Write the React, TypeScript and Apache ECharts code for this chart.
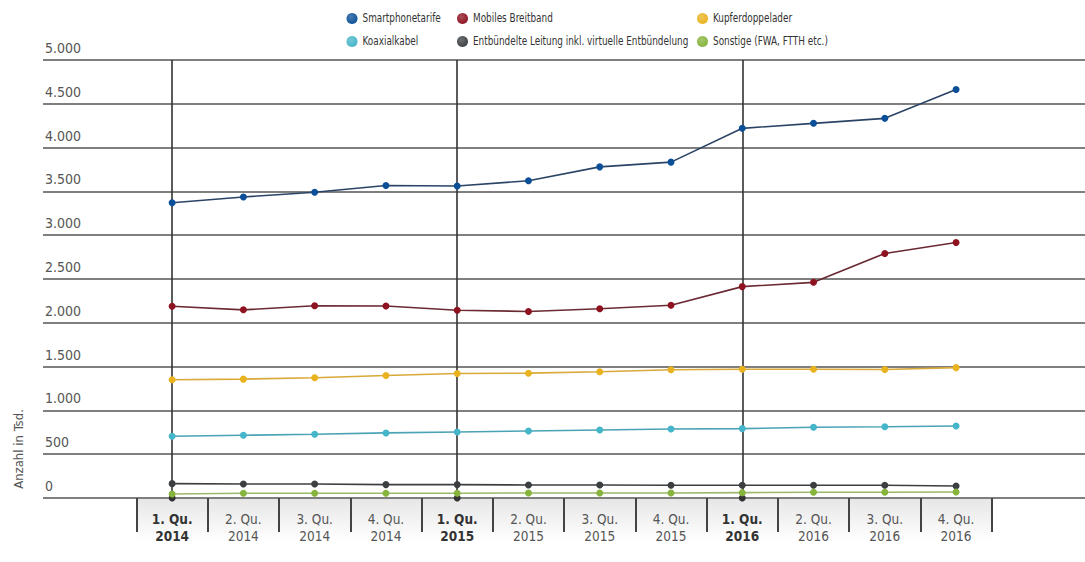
import React, { useEffect, useRef } from "react";
import * as echarts from "echarts";

const quarters = ["1. Qu.", "2. Qu.", "3. Qu.", "4. Qu.", "1. Qu.", "2. Qu.", "3. Qu.", "4. Qu.", "1. Qu.", "2. Qu.", "3. Qu.", "4. Qu."];
const years = ["2014", "2014", "2014", "2014", "2015", "2015", "2015", "2015", "2016", "2016", "2016", "2016"];
const categories = quarters.map((q, i) => `${q}\n${years[i]}`);

const seriesNames = [
  "Smartphonetarife",
  "Mobiles Breitband",
  "Kupferdoppelader",
  "Koaxialkabel",
  "Entbündelte Leitung inkl. virtuelle Entbündelung",
  "Sonstige (FWA, FTTH etc.)",
];
const smartphonetarife = [3370, 3436, 3490, 3568, 3561, 3622, 3780, 3834, 4220, 4277, 4334, 4664];
const mobilesBreitband = [2189, 2148, 2194, 2192, 2144, 2129, 2160, 2200, 2413, 2462, 2792, 2917];
const kupferdoppelader = [1350, 1357, 1373, 1399, 1421, 1425, 1441, 1464, 1470, 1470, 1467, 1488];
const koaxialkabel = [705, 716, 728, 743, 754, 765, 777, 788, 792, 807, 814, 822];
const entbuendelt = [164, 160, 160, 153, 153, 148, 148, 145, 145, 145, 145, 137];
const sonstige = [46, 54, 54, 54, 55, 57, 57, 57, 61, 65, 65, 68];
const seriesData = [smartphonetarife, mobilesBreitband, kupferdoppelader, koaxialkabel, entbuendelt, sonstige];

const dotColors = ["#0b4f98", "#8e1220", "#e9b21f", "#45b5c9", "#3c3f42", "#86b43c"];
const lineColors = ["#2b4466", "#6b2a32", "#d9a93a", "#4aa3b5", "#3c3f42", "#9cb86a"];

const yearStartIndices = [0, 4, 8];
const yAxisTitle = "Anzahl in Tsd.";

const FONT = "'DejaVu Sans Condensed', 'Liberation Sans', sans-serif";

const fmt = (v: number) =>
  v >= 1000 ? `${Math.floor(v / 1000)}.${String(v % 1000).padStart(3, "0")}` : String(v);

export default function App() {
  const ref = useRef<HTMLDivElement>(null);
  useEffect(() => {
    if (!ref.current) return;
    const chart = echarts.init(ref.current, undefined, { renderer: "svg" });

    // Legend layout: 3 columns x 2 rows (row-major order matches series order)
    const colIcon = [352, 462.5, 702.5];
    const rowY = [18.5, 41.5];
    const legendGraphics: any[] = [];
    seriesNames.forEach((name, i) => {
      const col = i % 3;
      const row = Math.floor(i / 3);
      legendGraphics.push({
        type: "circle",
        shape: { cx: colIcon[col], cy: rowY[row], r: 5.5 },
        style: {
          fill: new echarts.graphic.RadialGradient(0.4, 0.35, 0.7, [
            { offset: 0, color: echarts.color.lift(dotColors[i], 0.25) },
            { offset: 1, color: dotColors[i] },
          ]),
        },
      });
      legendGraphics.push({
        type: "text",
        x: colIcon[col] + 10.5,
        y: rowY[row],
        scaleX: 0.79,
        style: {
          text: name,
          fontFamily: FONT,
          fontSize: 12.5,
          fill: "#333",
          align: "left",
          verticalAlign: "middle",
        },
      });
    });

    chart.setOption({
      animation: false,
      backgroundColor: "#fff",
      textStyle: { fontFamily: FONT },
      grid: [
        { left: 43, right: 0, top: 60, bottom: 64 },
        { left: 136.5, right: 93.3, top: 60, bottom: 64 },
      ],
      xAxis: [
        { type: "value", gridIndex: 0, min: 0, max: 1, show: false },
        {
          type: "category",
          gridIndex: 1,
          data: categories,
          boundaryGap: true,
          axisLine: { show: false },
          axisTick: { show: true, length: 34, lineStyle: { color: "#444", width: 2 } },
          axisLabel: {
            margin: 12,
            interval: 0,
            formatter: (v: string, idx: number) => {
              const [q, y] = v.split("\n");
              const k = idx % 4 === 0 ? "b" : "n";
              return `{${k}|${q}}\n{${k}|${y}}`;
            },
            rich: {
              b: { fontFamily: FONT, fontSize: 13.5, fontWeight: "bold", color: "#333", lineHeight: 17, align: "center" },
              n: { fontFamily: FONT, fontSize: 13.5, color: "#555", lineHeight: 17, align: "center" },
            },
          },
          splitLine: { show: false },
        },
      ],
      yAxis: [
        {
          type: "value",
          gridIndex: 0,
          min: 0,
          max: 5000,
          interval: 500,
          axisLine: { show: false },
          axisTick: { show: false },
          splitLine: { show: true, lineStyle: { color: "#555", width: 1.6 } },
          axisLabel: {
            inside: true,
            margin: 2,
            verticalAlign: "bottom",
            padding: [0, 0, 5, 0],
            fontFamily: FONT,
            fontSize: 14,
            color: "#555",
            formatter: (v: number) => fmt(v),
          },
        },
        { type: "value", gridIndex: 1, min: 0, max: 5000, interval: 500, show: false },
      ],
      graphic: [
        {
          type: "rect",
          z: -10,
          shape: { x: 136.5, y: 499, width: 855, height: 42 },
          style: {
            fill: new echarts.graphic.LinearGradient(0, 0, 0, 1, [
              { offset: 0, color: "#e6e6e6" },
              { offset: 1, color: "#ffffff" },
            ]),
          },
        },
        {
          type: "text",
          x: 18,
          y: 449,
          rotation: Math.PI / 2,
          style: {
            text: yAxisTitle,
            fontFamily: FONT,
            fontSize: 13,
            fill: "#555",
            align: "center",
            verticalAlign: "middle",
          },
        },
        ...legendGraphics,
      ],
      series: seriesNames.map((name, i) => ({
        name,
        type: "line",
        xAxisIndex: 1,
        yAxisIndex: 1,
        data: seriesData[i],
        symbol: "circle",
        symbolSize: 7,
        itemStyle: { color: dotColors[i] },
        lineStyle: { color: lineColors[i], width: 1.6 },
        z: 5,
        ...(i === 0
          ? {
              markLine: {
                silent: true,
                symbol: ["circle", "none"],
                symbolSize: 7,
                label: { show: false },
                lineStyle: { color: "#333", width: 1.6, type: "solid" },
                itemStyle: { color: "#000" },
                z: 1,
                data: yearStartIndices.map((x) => ({ xAxis: x })),
              },
            }
          : {}),
      })),
    });
    return () => chart.dispose();
  }, []);
  return <div ref={ref} style={{ width: 1085, height: 562, position: "absolute", left: 0, top: 0 }} />;
}
